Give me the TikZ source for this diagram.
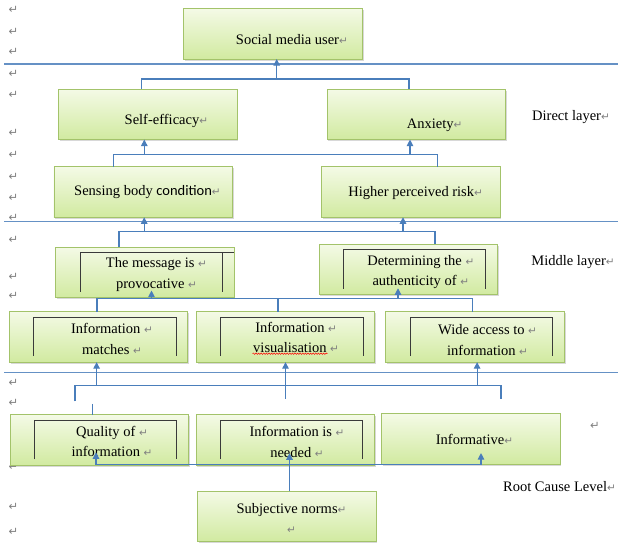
\documentclass[tikz,border=0pt]{standalone}
\usepackage{fontspec}
\setmainfont{Liberation Serif}
\newfontfamily\arrowfont{DejaVu Sans}
\newfontfamily\condfont{Carlito}
\usepackage{tikz}
\usetikzlibrary{arrows.meta, positioning, calc, shadows, decorations.pathmorphing}
\definecolor{lyBlue}{HTML}{4A7EBB}
\definecolor{lyGreen}{HTML}{A3C36A}
\definecolor{lyTop}{HTML}{F4FAE6}
\definecolor{lyBottom}{HTML}{D1EAA0}
\definecolor{lyMark}{HTML}{808080}
\definecolor{lyFrame}{HTML}{3A3A3A}
\newcommand{\retmark}{{\arrowfont\fontsize{10.5}{10}\selectfont\color{lyMark}↵}}

\begin{document}
\begin{tikzpicture}[
  x=1pt, y=-1pt,
  font=\fontsize{14.5}{20.5}\selectfont,
  box/.style={draw=lyGreen, line width=0.8pt, top color=lyTop, bottom color=lyBottom,
              minimum width=178.5pt, minimum height=50.5pt, inner sep=0pt, outer sep=0pt,
              drop shadow={shadow xshift=1.2pt, shadow yshift=-1.6pt, opacity=0.3, fill=black!50}},
  txt/.style={inner sep=0pt, text height=10pt, text depth=3.5pt},
  txttwo/.style={inner sep=0pt, align=center},
  frame/.style={draw=lyFrame, line width=0.7pt},
  link/.style={draw=lyBlue, line width=1.1pt},
  arr/.style={link, -{Triangle[length=6.5pt, width=6.5pt]}},
  layer/.style={draw=lyBlue!85, line width=1.1pt},
  pmark/.style={inner sep=0pt, font=\arrowfont\fontsize{11.5}{12}\selectfont, text=lyMark},
  spell/.style={draw=red, line width=0.5pt, decorate,
                decoration={snake, amplitude=0.7pt, segment length=2.6pt}},
]
\fill[white] (0,0) rectangle (618,547);
\useasboundingbox (0,0) rectangle (618,547);

% paragraph marks in the margin
\foreach \y in {10,31.7,51.7,73.5,95,133,155,176.7,198.3,218.3,240,277,296,360,382.7,402.7,466.7,507.3,531.7}
  \node[pmark] at (13.5,\y) {↵};
\node[pmark] at (595,426) {↵};

% layer rules
\draw[layer] (4,64) -- (618,64);
\draw[layer] (4,221.7) -- (618,221.7);
\draw[layer] (4,372.7) -- (618,372.7);

% top
\node[box, label={[txt,xshift=18.8pt,yshift=-7.9pt]center:Social media user\retmark}] (user) at (273.1,33.8) {};

% direct layer
\node[box, label={[txt,xshift=18.6pt,yshift=-6.7pt]center:Self-efficacy\retmark}] (self) at (147.8,114.3) {};
\node[box, right=90pt of self, label={[txt,xshift=18.3pt,yshift=-10.7pt]center:Anxiety\retmark}] (anx) {};
\node[box, label={[txt,xshift=4.3pt,yshift=-0.7pt]center:Sensing body {\condfont condition}\retmark}] (sense) at (143.2,192) {};
\node[box, right=89pt of sense, label={[txt,xshift=5pt,yshift=-1.3pt]center:Higher perceived risk\retmark}] (risk) {};
\node[txt] (direct) at (571,117.3) {Direct layer\retmark};

% middle layer
\node[box, label={[txttwo,xshift=11.5pt,yshift=-2pt]center:{The message is \retmark\\provocative \retmark}}] (msg) at (145,272.3) {};
\node[box, right=85pt of msg, yshift=2.8pt, label={[txttwo,xshift=12.3pt,yshift=-2.5pt]center:{Determining the \retmark\\authenticity of \retmark}}] (auth) {};
\node[box, label={[txttwo,xshift=13.4pt,yshift=-2pt]center:{Information \retmark\\matches \retmark}}] (match) at (98.6,336.9) {};
\node[box, right=8.5pt of match, label={[txttwo,xshift=10.5pt,yshift=-0.8pt]center:{Information \retmark\\visualisation \retmark}}] (vis) {};
\node[box, right=11pt of vis, label={[txttwo,xshift=12.5pt,yshift=-3pt]center:{Wide access to \retmark\\information \retmark}}] (wide) {};
\node[txt] (middle) at (573,262) {Middle layer\retmark};

% root cause level
\node[box, label={[txttwo,xshift=12.5pt,yshift=-1.5pt]center:{Quality of \retmark\\information \retmark}}] (qual) at (99.5,440) {};
\node[box, right=7.5pt of qual, label={[txttwo,xshift=11.5pt,yshift=-1.8pt]center:{Information is \retmark\\needed \retmark}}] (need) {};
\node[box, right=7pt of need, yshift=1.2pt, label={[txt,xshift=3.5pt,yshift=-2pt]center:Informative\retmark}] (info) {};
\node[box, below=26pt of need, xshift=1.5pt, label={[txttwo,xshift=4.5pt,yshift=-2pt]center:{Subjective norms\retmark\\\retmark}}] (norms) {};
\node[txt] (rootlvl) at (559.5,488) {Root Cause Level\retmark};

% inner text frames
\draw[frame] ([xshift=25pt,yshift=6pt]msg.south west) |- ([yshift=-5.7pt]msg.north east);
\draw[frame] ([xshift=-12pt,yshift=-5.7pt]msg.north east) -- ([xshift=-12pt,yshift=6pt]msg.south east);
\foreach \b in {auth,match,vis,wide,qual,need}
  \draw[frame] ([xshift=24pt,yshift=6pt]\b.south west) |- ([xshift=-12pt,yshift=-5.5pt]\b.north east)
    -- ([xshift=-12pt,yshift=6pt]\b.south east);
\draw[spell] ([xshift=-33pt,yshift=-16.8pt]vis.center) -- ([xshift=42pt,yshift=-16.8pt]vis.center);

% direct layer links
\coordinate (bar1) at (276.7,79);
\draw[link] ([xshift=-6pt]self.north) |- (bar1) -| ([xshift=-7.3pt]anx.north);
\draw[arr] (bar1) -- (bar1 |- user.south);
\coordinate (bar2) at (276,154.3);
\draw[link] ([xshift=-30pt]sense.north) |- (bar2) -| ([xshift=27pt]risk.north);
\draw[arr] ([xshift=-3.5pt]self.south |- bar2) -- ([xshift=-3.5pt]self.south);
\draw[arr] ([xshift=-6.3pt]anx.south |- bar2) -- ([xshift=-6.3pt]anx.south);

% middle layer links
\coordinate (bar3) at (276,231.7);
\draw[link] ([xshift=-26pt]msg.north) |- (bar3) -| ([xshift=26.5pt]auth.north);
\draw[arr] ([xshift=1pt]sense.south |- bar3) -- ([xshift=1pt]sense.south);
\draw[arr] ([xshift=-7.7pt]risk.south |- bar3) -- ([xshift=-7.7pt]risk.south);
\coordinate (bar4) at (278,298.2);
\draw[link] ([xshift=-1.6pt]match.north) |- (bar4) -| ([xshift=-3pt]wide.north);
\draw[link] (bar4) -- (bar4 |- vis.north);
\draw[arr] ([xshift=6.5pt]msg.south |- bar4) -- ([xshift=6.5pt,yshift=7pt]msg.south);
\draw[arr] ([xshift=-10.5pt]auth.south |- bar4) -- ([xshift=-10.5pt,yshift=6.5pt]auth.south);

% root level links
\coordinate (bar5) at (285.6,385.7);
\draw[link] ([xshift=-24.5pt,yshift=13.5pt]qual.north) |- (bar5) -| ([xshift=30pt,yshift=15pt]info.north);
\draw[link] ([xshift=-7pt,yshift=11pt]qual.north) -- ([xshift=-7pt]qual.north);
\draw[arr] ([yshift=16pt]need.north) -- (need.north |- vis.south);
\draw[arr] ([xshift=-2pt]match.south |- bar5) -- ([xshift=-2pt]match.south);
\draw[arr] ([xshift=2pt]wide.south |- bar5) -- ([xshift=2pt]wide.south);
\coordinate (bar6) at (289.5,464.5);
\draw[link] ([xshift=-3.5pt]qual.south |- bar6) -- ([xshift=10pt]info.south |- bar6);
\draw[arr] ([xshift=-3.5pt]qual.south |- bar6) -- ([xshift=-3.5pt,yshift=13pt]qual.south);
\draw[arr] ([xshift=10pt]info.south |- bar6) -- ([xshift=10pt,yshift=11pt]info.south);
\draw[arr] ([xshift=2.5pt]norms.north) -- ([xshift=4pt,yshift=12pt]need.south);
\end{tikzpicture}
\end{document}
